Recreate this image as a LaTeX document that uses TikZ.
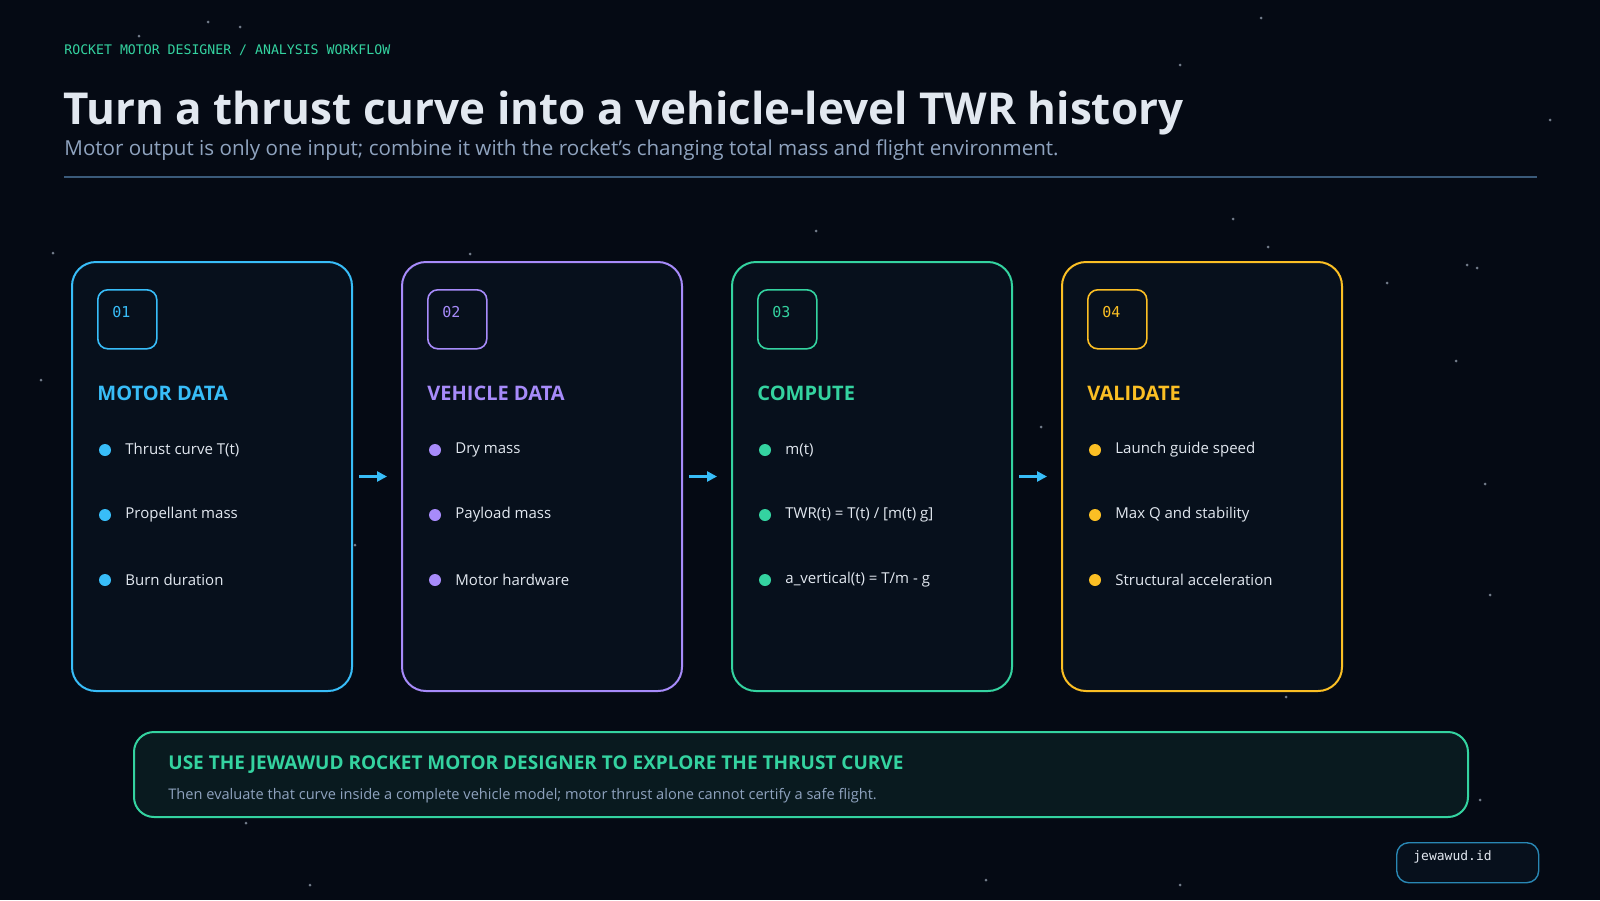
\documentclass[tikz,border=0pt]{standalone}
\usepackage{fontspec}
\setmainfont{Open Sans}
\setmonofont{DejaVu Sans Mono}
\usetikzlibrary{arrows.meta, positioning}
\definecolor{bgc}{HTML}{050A14}
\definecolor{cardc}{HTML}{07101C}
\definecolor{cyanc}{HTML}{38BDF8}
\definecolor{purpc}{HTML}{A78BFA}
\definecolor{greenc}{HTML}{34D3A0}
\definecolor{orngc}{HTML}{FBBF24}
\definecolor{subc}{HTML}{8FA3BF}
\definecolor{rulec}{HTML}{3A5A7A}
\definecolor{textc}{HTML}{E2E8F0}
\tikzset{
  card/.style={draw=#1, line width=1pt, fill=cardc, rounded corners=12pt, minimum width=140pt, minimum height=214.5pt, anchor=north west, inner sep=0pt},
  numbox/.style={draw=#1, line width=0.8pt, rounded corners=5pt, minimum width=29.5pt, minimum height=29.5pt, anchor=north west, inner sep=0pt},
  numtxt/.style={text=#1, anchor=north west, font=\ttfamily\fontsize{7.5}{9}\selectfont, inner sep=0pt},
  cardtitle/.style={text=#1, anchor=west, font=\fontsize{10}{12}\selectfont\bfseries, inner sep=0pt},
  item/.style={text=textc, anchor=west, font=\fontsize{7.5}{9}\selectfont, inner sep=0pt},
  dot/.style={circle, fill=#1, minimum size=6pt, inner sep=0pt},
  flow/.style={-{Triangle[length=5pt,width=5pt]}, cyanc, line width=1.5pt},
  star/.style={circle, fill=subc!60, minimum size=1.5pt, inner sep=0pt, opacity=0.6}
}
\begin{document}
\begin{tikzpicture}[x=0.5pt, y=-0.5pt]
\fill[bgc] (0,0) rectangle (1600,900);
\useasboundingbox (0,0) rectangle (1600,900);
% stars
\foreach \sx/\sy in {208/22,240/27,139/36,1261/18,1180/65,1233/219,1467/265,1387/283,1477/268,1041/427,1456/361,1485/484,1268/247,1300/460,53/253,41/380,355/545,1286/697,1480/800,246/823,310/885,1180/885,1550/120,470/254,816/231,986/880,1490/595}
  \node[star] (s) at (\sx,\sy) {};
% header
\node[anchor=west, text=greenc, font=\ttfamily\fontsize{6.6}{8}\selectfont, inner sep=0pt] (crumb) at (64,50) {ROCKET MOTOR DESIGNER / ANALYSIS WORKFLOW};
\node[anchor=base west, text=textc, font=\fontsize{22}{27}\selectfont\bfseries, inner sep=0pt] (title) at (63,124) {Turn a thrust curve into a vehicle-level TWR history};
\node[anchor=base west, text=subc, font=\fontsize{10.3}{13}\selectfont, inner sep=0pt] (sub) at (64,155) {Motor output is only one input; combine it with the rocket's changing total mass and flight environment.};
\draw[rulec, line width=1pt] (64,177) -- (1537,177);
% cards
\foreach \i/\col/\num/\head/\a/\b/\c in {
  0/cyanc/01/MOTOR DATA/Thrust curve T(t)/Propellant mass/Burn duration,
  1/purpc/02/VEHICLE DATA/Dry mass/Payload mass/Motor hardware,
  2/greenc/03/COMPUTE/m(t)/{TWR(t) = T(t) / [m(t) g]}/a\_vertical(t) = T{/}m - g,
  3/orngc/04/VALIDATE/Launch guide speed/Max Q and stability/Structural acceleration}{
  \pgfmathsetmacro{\cx}{71+330*\i}
  \node[card=\col] (card\num) at (\cx,261) {};
  \node[numbox=\col] (num\num) at (\cx+26,289) {};
  \node[numtxt=\col] (nt\num) at (\cx+41,306) {\num};
  \node[cardtitle=\col] (head\num) at (\cx+26,393) {\head};
  \node[dot=\col] (d1\num) at (\cx+34,450) {};
  \node[item, right=10pt of d1\num.center] (i1\num) {\a};
  \node[dot=\col] (d2\num) at (\cx+34,515) {};
  \node[item, right=10pt of d2\num.center] (i2\num) {\b};
  \node[dot=\col] (d3\num) at (\cx+34,580) {};
  \node[item, right=10pt of d3\num.center] (i3\num) {\c};
}
% arrows
\foreach \p/\q in {01/02,02/03,03/04}{
  \coordinate (a\p) at ([xshift=3pt,yshift=0pt]card\p.east);
  \coordinate (b\p) at ([xshift=17pt,yshift=0pt]card\p.east);
  \draw[flow] (a\p) -- (b\p);
}
% banner
\node[draw=greenc, line width=1pt, fill=greenc!8!bgc, rounded corners=10pt, minimum width=667pt, minimum height=42.5pt, anchor=north west] (banner) at (133,731) {};
\node[anchor=west, text=greenc, font=\fontsize{9.5}{11}\selectfont\bfseries, inner sep=0pt] (btitle) at (168,765) {USE THE JEWAWUD ROCKET MOTOR DESIGNER TO EXPLORE THE THRUST CURVE};
\node[anchor=west, text=subc, font=\fontsize{7.3}{9}\selectfont, inner sep=0pt] (bsub) at (168,796) {Then evaluate that curve inside a complete vehicle model; motor thrust alone cannot certify a safe flight.};
% site tag
\node[draw=cyanc!70!bgc, line width=0.7pt, rounded corners=6pt, fill=cardc, minimum width=71pt, minimum height=20pt, anchor=north west] (tag) at (1396,842) {};
\node[anchor=west, text=textc, font=\ttfamily\fontsize{6.5}{8}\selectfont, inner sep=0pt] (tagtxt) at (1413,857) {jewawud.id};
\end{tikzpicture}
\end{document}
